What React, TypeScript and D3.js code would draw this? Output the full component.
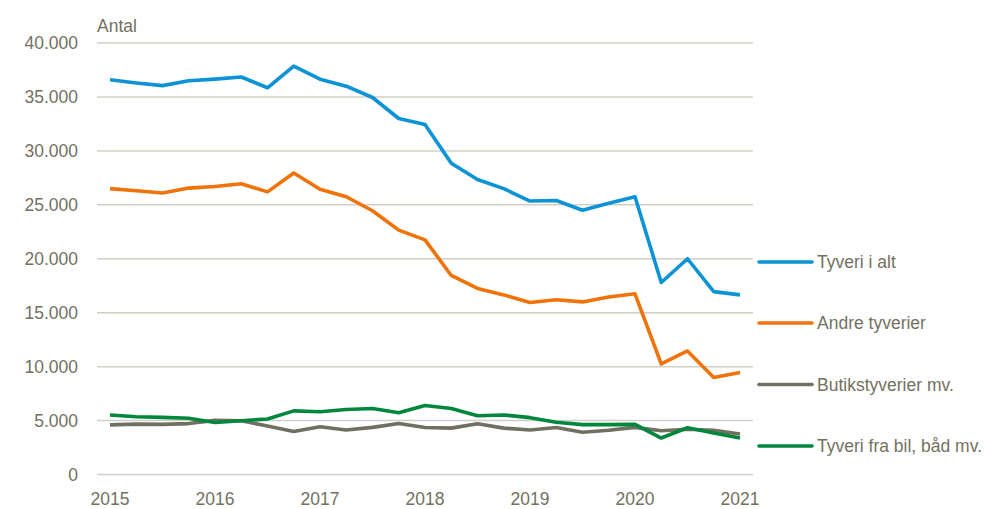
import * as d3 from 'd3';

// quarterly observations, 2015 Q1 .. 2021 Q1
const quarters = d3.range(25).map((i) => 2015 + i / 4);

const tyveriIAlt = [
  36.6, 36.3, 36.05, 36.5, 36.65, 36.85, 35.85, 37.85, 36.65, 36.0, 34.95, 33.0,
  32.45, 28.85, 27.35, 26.5, 25.35, 25.4, 24.5, 25.15, 25.75, 17.8, 20.0, 16.95, 16.65,
].map((v) => v * 1000);

const andreTyverier = [
  26.5, 26.3, 26.1, 26.55, 26.7, 26.95, 26.2, 27.95, 26.45, 25.75, 24.45, 22.65,
  21.75, 18.45, 17.25, 16.65, 15.95, 16.2, 16.0, 16.45, 16.75, 10.25, 11.45, 9.0, 9.45,
].map((v) => v * 1000);

const butikstyverier = [
  4.6, 4.67, 4.65, 4.72, 5.02, 4.98, 4.5, 3.98, 4.42, 4.12, 4.37, 4.72,
  4.35, 4.3, 4.7, 4.3, 4.12, 4.35, 3.92, 4.1, 4.37, 4.05, 4.2, 4.1, 3.76,
].map((v) => v * 1000);

const tyveriFraBil = [
  5.52, 5.36, 5.3, 5.21, 4.82, 4.98, 5.15, 5.9, 5.82, 6.02, 6.12, 5.73,
  6.4, 6.12, 5.45, 5.52, 5.27, 4.85, 4.62, 4.62, 4.65, 3.38, 4.33, 3.85, 3.38,
].map((v) => v * 1000);

const seriesNames = ['Tyveri i alt', 'Andre tyverier', 'Butikstyverier mv.', 'Tyveri fra bil, båd mv.'];
const seriesValues = [tyveriIAlt, andreTyverier, butikstyverier, tyveriFraBil];
const seriesColors = ['#0b93d6', '#ef7308', '#716f61', '#00873d'];

const yTicks = [0, 5000, 10000, 15000, 20000, 25000, 30000, 35000, 40000];
const xTicks = [2015, 2016, 2017, 2018, 2019, 2020, 2021];

const textColor = '#72715f';
const font = '"Liberation Sans", Arial, sans-serif';

const App = () => {
  const width = 984;
  const height = 509;

  const xScale = d3.scaleLinear().domain([2015, 2021]).range([110, 740]);
  const yScale = d3.scaleLinear().domain([0, 40000]).range([474.5, 43]);

  const line = d3
    .line<number>()
    .x((_, i) => xScale(quarters[i]))
    .y((d) => yScale(d));

  const fmt = (v: number) => d3.format(',')(v).replace(/,/g, '.');

  // legend rows sit next to the right end of the plot
  const legendY = [262, 323, 384.5, 446];

  return (
    <svg
      width={width}
      height={height}
      style={{ position: 'absolute', left: 0, top: 0 }}
      fontFamily={font}
    >
      <rect width={width} height={height} fill="#ffffff" />

      {yTicks.map((t) => (
        <g key={t}>
          <line x1={97} x2={753} y1={yScale(t)} y2={yScale(t)} stroke="#d0d0c6" strokeWidth={1.5} />
          <text
            x={78}
            y={yScale(t)}
            dy="0.36em"
            textAnchor="end"
            fontSize={17.5}
            fill={textColor}
          >
            {fmt(t)}
          </text>
        </g>
      ))}

      <text x={97} y={31.5} fontSize={17.5} fill={textColor}>
        Antal
      </text>

      {xTicks.map((t) => (
        <text key={t} x={xScale(t)} y={504.5} textAnchor="middle" fontSize={17.5} fill={textColor}>
          {t}
        </text>
      ))}

      {seriesValues.map((vals, i) => (
        <path
          key={seriesNames[i]}
          d={line(vals) ?? ''}
          fill="none"
          stroke={seriesColors[i]}
          strokeWidth={3.6}
          strokeLinejoin="round"
        />
      ))}

      {seriesNames.map((name, i) => (
        <g key={name}>
          <line
            x1={759}
            x2={812}
            y1={legendY[i]}
            y2={legendY[i]}
            stroke={seriesColors[i]}
            strokeWidth={3.6}
            strokeLinecap="round"
          />
          <text x={817} y={legendY[i]} dy="0.36em" fontSize={17.5} fill={textColor}>
            {name}
          </text>
        </g>
      ))}
    </svg>
  );
};

export default App;
